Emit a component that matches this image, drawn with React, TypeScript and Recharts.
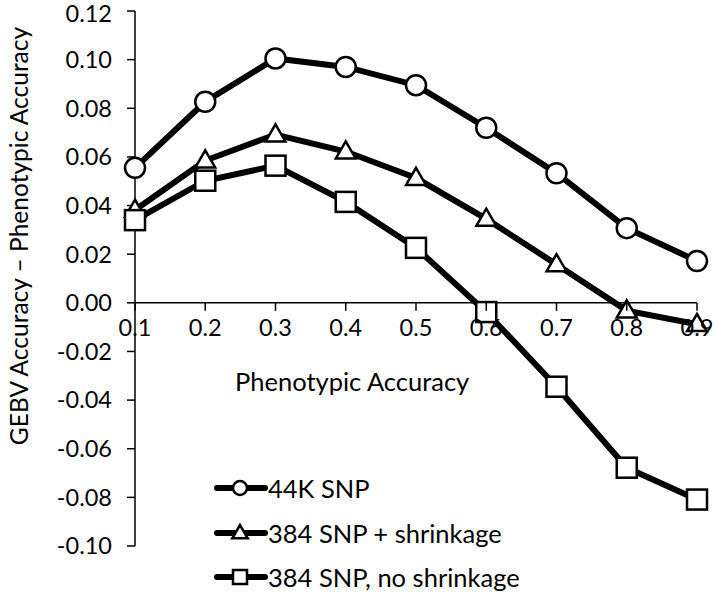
import { LineChart, Line, XAxis, YAxis, ReferenceLine } from "recharts";

const accuracy = ["0.1", "0.2", "0.3", "0.4", "0.5", "0.6", "0.7", "0.8", "0.9"];
const snp44k = [0.0555, 0.0827, 0.1005, 0.097, 0.0895, 0.072, 0.0533, 0.0307, 0.0172];
const snp384Shrink = [0.0382, 0.0585, 0.0692, 0.0622, 0.0513, 0.0345, 0.0158, -0.0032, -0.0088];
const snp384NoShrink = [0.034, 0.0502, 0.0564, 0.0415, 0.0226, -0.0038, -0.0345, -0.0678, -0.0809];
const yTicks = [-0.1, -0.08, -0.06, -0.04, -0.02, 0, 0.02, 0.04, 0.06, 0.08, 0.1, 0.12];

const FONT = "Lato, 'Open Sans', sans-serif";
const W = 717;
const H = 595;
const M = { top: 11, right: 20, bottom: 48, left: 0 };
const X_AXIS_H = 1;
const Y_AXIS_W = 135;
const Y_MIN = -0.1;
const Y_MAX = 0.12;

const rows = accuracy.map((a, i) => ({
  acc: a,
  s44: snp44k[i],
  s384: snp384Shrink[i],
  s384n: snp384NoShrink[i],
}));

const series = [
  { key: "s44", name: "44K SNP", shape: "circle" },
  { key: "s384", name: "384 SNP + shrinkage", shape: "triangle" },
  { key: "s384n", name: "384 SNP, no shrinkage", shape: "square" },
];

function Marker({ cx, cy, shape, size }: { cx: number; cy: number; shape: string; size: number }) {
  if (cx == null || cy == null) return null;
  if (shape === "circle") {
    return <circle cx={cx} cy={cy} r={size} fill="#fff" stroke="#000" strokeWidth={2.5} />;
  }
  if (shape === "square") {
    return (
      <rect x={cx - size} y={cy - size} width={size * 2} height={size * 2} fill="#fff" stroke="#000" strokeWidth={2.5} />
    );
  }
  const h = size * 1.9;
  const pts = `${cx},${cy - h * 0.6} ${cx + size * 1.1},${cy + h * 0.4} ${cx - size * 1.1},${cy + h * 0.4}`;
  return <polygon points={pts} fill="#fff" stroke="#000" strokeWidth={2.5} />;
}

// x labels hang under the zero line instead of the plot bottom
const plotH = H - M.top - M.bottom - X_AXIS_H;
const zeroY = M.top + ((Y_MAX - 0) / (Y_MAX - Y_MIN)) * plotH;

function XTick(props: any) {
  const { x, payload } = props;
  return (
    <g>
      <line x1={x} x2={x} y1={zeroY} y2={zeroY + 8} stroke="#000" strokeWidth={1.5} />
      <text x={x} y={zeroY + 33} textAnchor="middle" fontSize={23.5} fontFamily={FONT} fill="#000">
        {payload.value}
      </text>
    </g>
  );
}

function LegendBox() {
  return (
    <div style={{ position: "absolute", left: 214, top: 466, fontFamily: FONT, fontSize: 25.5, color: "#000" }}>
      {series.map((s) => (
        <div key={s.key} style={{ display: "flex", alignItems: "center", height: 44.5 }}>
          <svg width={54} height={24}>
            <line x1={3} x2={51} y1={12} y2={12} stroke="#000" strokeWidth={6} strokeLinecap="round" />
            <Marker cx={26} cy={12} shape={s.shape} size={7} />
          </svg>
          <span style={{ whiteSpace: "nowrap" }}>{s.name}</span>
        </div>
      ))}
    </div>
  );
}

export default function App() {
  return (
    <div style={{ position: "absolute", left: 0, top: 0, width: W, height: H, background: "#fff" }}>
      <LineChart width={W} height={H} data={rows} margin={M}>
        <XAxis dataKey="acc" axisLine={false} tickLine={false} height={X_AXIS_H} tick={<XTick />} interval={0} />
        <YAxis
          type="number"
          domain={[Y_MIN, Y_MAX]}
          ticks={yTicks}
          width={Y_AXIS_W}
          tickFormatter={(v: number) => v.toFixed(2)}
          tick={{ fontSize: 23.5, fontFamily: FONT, fill: "#000" }}
          tickSize={8}
          tickMargin={15}
          axisLine={{ stroke: "#000", strokeWidth: 1.5 }}
          tickLine={{ stroke: "#000", strokeWidth: 1.5 }}
          allowDataOverflow
        />
        <ReferenceLine y={0} stroke="#000" strokeWidth={1.5} />
        {series.map((s) => (
          <Line
            key={s.key}
            dataKey={s.key}
            name={s.name}
            stroke="#000"
            strokeWidth={6}
            type="linear"
            isAnimationActive={false}
            dot={(p: any) => (
              <Marker key={`${s.key}-${p.index}`} cx={p.cx} cy={p.cy} shape={s.shape} size={s.shape === "triangle" ? 9 : 10} />
            )}
          />
        ))}
      </LineChart>
      <LegendBox />
      <div
        style={{
          position: "absolute",
          left: 235,
          top: 366,
          fontFamily: FONT,
          fontSize: 25.5,
          whiteSpace: "nowrap",
        }}
      >
        Phenotypic Accuracy
      </div>
      <div
        style={{
          position: "absolute",
          left: 18,
          top: 236,
          transform: "translate(-50%, -50%) rotate(-90deg)",
          fontFamily: FONT,
          fontSize: 24.5,
          whiteSpace: "nowrap",
        }}
      >
        GEBV Accuracy – Phenotypic Accuracy
      </div>
    </div>
  );
}
